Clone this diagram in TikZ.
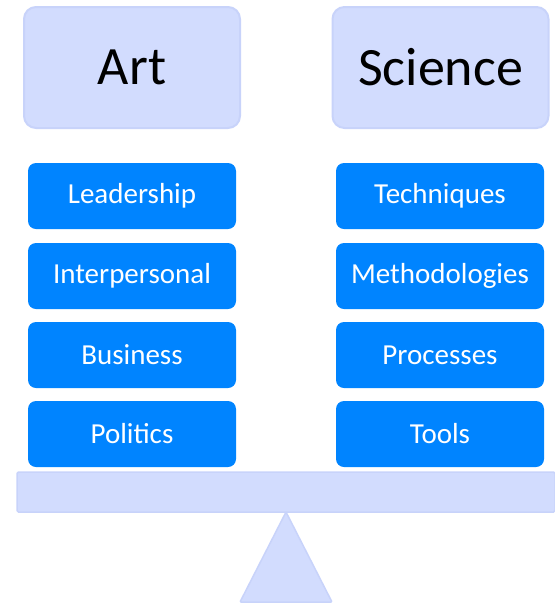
\documentclass[tikz,border=0pt]{standalone}
\usepackage{fontspec}
\setmainfont{Carlito}
\definecolor{lavfill}{HTML}{D2DCFE}
\definecolor{lavline}{HTML}{C8D3FA}
\definecolor{itemblue}{HTML}{0084FF}
\begin{document}
\begin{tikzpicture}[x=1pt,y=-1pt,inner sep=0pt,outer sep=0pt,
headbox/.style={draw=lavline,fill=lavfill,line width=2pt,rounded corners=12pt,minimum width=216pt,minimum height=121pt,font=\fontsize{54}{60}\selectfont},
itembox/.style={fill=itemblue,rounded corners=8pt,minimum width=208pt,minimum height=66pt,text=white,font=\fontsize{29}{34}\selectfont},
scalepart/.style={draw=lavline,fill=lavfill,line width=1.5pt}]
\useasboundingbox (0,0) rectangle (555,606);
% headings
\draw (132,67.5) node[headbox] (art) {Art};
\draw (440.5,67.5) node[headbox] (science) {Science};
% art side
\draw (132,196) node[itembox] (leadership) {Leadership};
\draw (132,276) node[itembox] (interpersonal) {Interpersonal};
\draw (132,355) node[itembox] (business) {Business};
\draw (132,434) node[itembox] (politics) {Politics};
% science side
\draw (440,196) node[itembox] (techniques) {Techniques};
\draw (440,276) node[itembox] (methodologies) {Methodologies};
\draw (440,355) node[itembox] (processes) {Processes};
\draw (440,434) node[itembox] (tools) {Tools};
% balance
\draw (286,492) node[scalepart,rectangle,rounded corners=1.5pt,minimum width=538pt,minimum height=40pt] (beam) {};
\coordinate (footleft) at (240,602);
\coordinate (footright) at (332,602);
\draw[scalepart,rounded corners=1pt] (beam.south) -- (footright) -- (footleft) -- cycle;
\end{tikzpicture}
\end{document}
